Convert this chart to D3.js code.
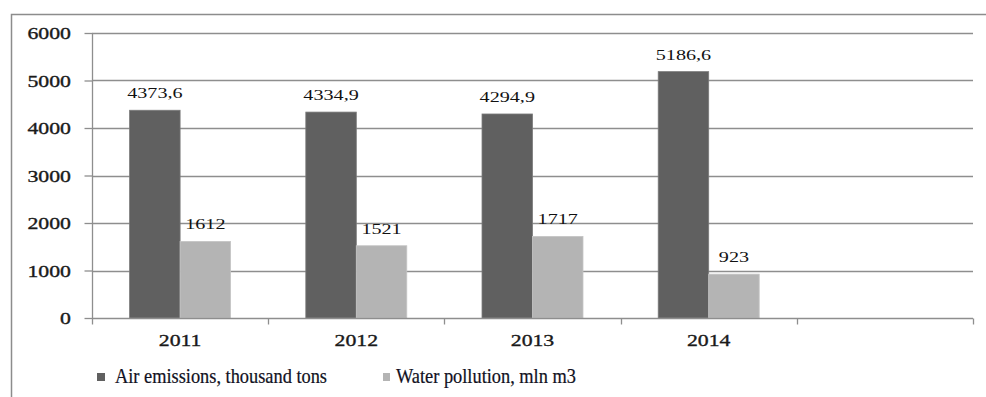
<!DOCTYPE html>
<html>
<head>
<meta charset="utf-8">
<script src="https://cdn.jsdelivr.net/npm/d3@7"></script>
<style>
  html, body { margin: 0; padding: 0; background: #fff; }
  svg { display: block; }
  text { font-family: "Liberation Serif", "Times New Roman", serif; fill: #1a1a1a; }
  .bold-ish { stroke: #1a1a1a; stroke-width: 0.35px; }
  .semi { stroke: #111122; stroke-width: 0.2px; }
</style>
</head>
<body>
<svg id="chart" width="986" height="397"></svg>
<script>
const categories = ["2011", "2012", "2013", "2014", ""];
const seriesNames = ["Air emissions, thousand tons", "Water pollution, mln m3"];
const airEmissions = [4373.6, 4334.9, 4294.9, 5186.6, null];
const waterPollution = [1612, 1521, 1717, 923, null];
const airLabels = ["4373,6", "4334,9", "4294,9", "5186,6", ""];
const waterLabels = ["1612", "1521", "1717", "923", ""];
const yTicks = [0, 1000, 2000, 3000, 4000, 5000, 6000];
const colors = ["#606060", "#b4b4b4"];

const svg = d3.select("#chart");
const W = 986, H = 397;
const plot = { left: 92, right: 973, top: 33, bottom: 318 };

// outer frame (cropped at right/bottom)
svg.append("path")
  .attr("d", `M11.5,${H} V14.5 H${W}`)
  .attr("fill", "none").attr("stroke", "#8c8c8c").attr("stroke-width", 1.5);

const x0 = d3.scaleBand().domain(categories).range([plot.left, plot.right]).paddingInner(0).paddingOuter(0);
const x1 = d3.scaleBand().domain(seriesNames).range([0, x0.bandwidth()]).paddingInner(0).paddingOuter(0.745);
const y = d3.scaleLinear().domain([0, 6000]).range([plot.bottom, plot.top]);

// gridlines
svg.append("g").selectAll("line").data(yTicks.filter(d => d > 0)).join("line")
  .attr("x1", plot.left).attr("x2", plot.right)
  .attr("y1", d => Math.round(y(d)) + 0.5).attr("y2", d => Math.round(y(d)) + 0.5)
  .attr("stroke", "#8e8e8e").attr("stroke-width", 1.3);

// y axis
const yAxis = svg.append("g").attr("transform", `translate(${plot.left + 0.5},0)`)
  .call(d3.axisLeft(y).tickValues(yTicks).tickSize(8).tickPadding(0).tickFormat(""));
yAxis.selectAll("line,path").attr("stroke", "#8e8e8e").attr("stroke-width", 1.3);
yAxis.select(".domain").attr("d", `M0,${plot.top}V${plot.bottom}`);

// y tick labels (stretched serif)
svg.append("g").selectAll("text").data(yTicks).join("text")
  .attr("class", "bold-ish")
  .attr("transform", d => `translate(71,${y(d) + 6}) scale(1.32,1)`)
  .attr("text-anchor", "end")
  .style("font-size", "16.5px")
  .text(d => d);

// bars
const seriesData = [airEmissions, waterPollution];
const groups = svg.append("g").selectAll("g").data(seriesData).join("g")
  .attr("fill", (d, i) => colors[i]);
groups.each(function(vals, si) {
  d3.select(this).selectAll("rect")
    .data(vals.map((v, ci) => ({ v, c: categories[ci] })).filter(d => d.v != null))
    .join("rect")
    .attr("x", d => x0(d.c) + x1(seriesNames[si]))
    .attr("width", x1.bandwidth())
    .attr("y", d => y(d.v))
    .attr("height", d => y(0) - y(d.v))
    .attr("stroke", si === 0 ? "#7a7a7a" : "#c4c4c4")
    .attr("stroke-width", 0.8);
});

// x axis
const xAxis = svg.append("g").attr("transform", `translate(0,${plot.bottom + 0.5})`);
xAxis.append("line").attr("x1", plot.left).attr("x2", plot.right)
  .attr("stroke", "#8e8e8e").attr("stroke-width", 1.3);
const boundaries = categories.map(c => x0(c)).concat([plot.right]);
xAxis.selectAll("line.tick").data(boundaries).join("line").attr("class", "tick")
  .attr("x1", d => Math.round(d) + 0.5).attr("x2", d => Math.round(d) + 0.5)
  .attr("y1", 0).attr("y2", 6)
  .attr("stroke", "#8e8e8e").attr("stroke-width", 1.3);
svg.append("g").selectAll("text").data(categories).join("text")
  .attr("class", "bold-ish")
  .attr("transform", d => `translate(${x0(d) + x0.bandwidth() / 2},345.5) scale(1.28,1)`)
  .attr("text-anchor", "middle")
  .style("font-size", "17px")
  .text(d => d);

// value labels
const labelSets = [airLabels, waterLabels];
labelSets.forEach((labels, si) => {
  svg.append("g").selectAll("text")
    .data(labels.map((t, ci) => ({ t, c: categories[ci], v: seriesData[si][ci] })).filter(d => d.v != null))
    .join("text")
    .attr("transform", d => `translate(${x0(d.c) + x1(seriesNames[si]) + x1.bandwidth() / 2},${y(d.v) - 12}) scale(1.3,1)`)
    .attr("text-anchor", "middle")
    .style("font-size", "15.5px")
    .style("fill", "#111")
    .text(d => d.t);
});

// legend
const legendX = [97, 383];
const legendTextX = [115, 396];
const leg = svg.append("g").selectAll("g").data(seriesNames).join("g");
leg.append("rect")
  .attr("x", (d, i) => legendX[i]).attr("y", 373)
  .attr("width", (d, i) => i === 0 ? 8 : 7).attr("height", 8)
  .attr("fill", (d, i) => colors[i]);
leg.append("text")
  .attr("class", "semi")
  .attr("transform", (d, i) => `translate(${legendTextX[i]},383) scale(1.02,1.12)`)
  .style("font-size", "18px")
  .style("fill", "#111122")
  .text(d => d);
</script>
</body>
</html>
